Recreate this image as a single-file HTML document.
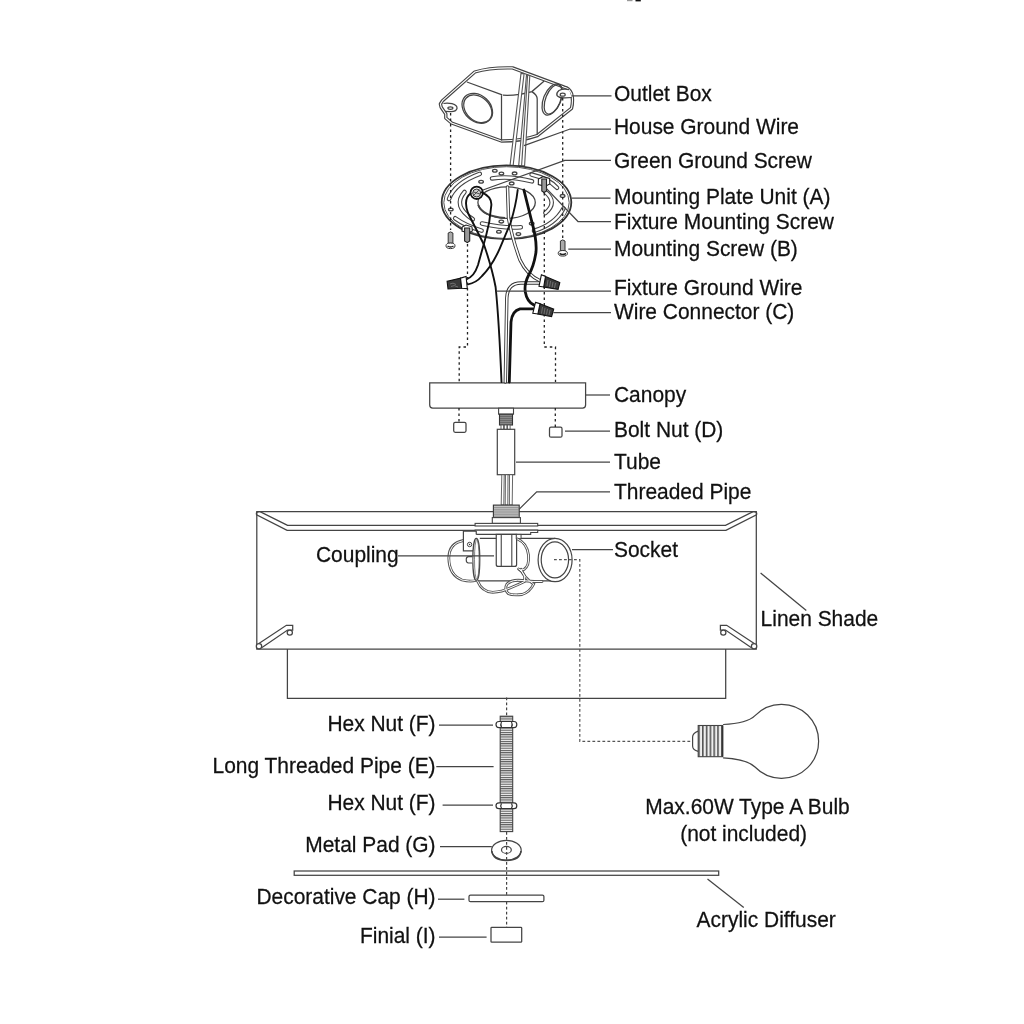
<!DOCTYPE html>
<html><head><meta charset="utf-8">
<style>
html,body{margin:0;padding:0;background:#fff;width:1024px;height:1024px;overflow:hidden}
svg{display:block;will-change:transform}
text{font-family:"Liberation Sans",sans-serif;font-size:20.95px;fill:#111;stroke:#111;stroke-width:0.25}
.l{fill:none;stroke:#444;stroke-width:1.25}
.d{fill:none;stroke:#222;stroke-width:1.3;stroke-dasharray:2.5 3}
.k{fill:none;stroke:#111;stroke-width:2.4}
</style></head>
<body>
<svg width="1024" height="1024" viewBox="0 0 1024 1024">




<!-- CANOPY, BOLT NUTS, TUBE -->
<g class="l">
<path d="M429.7 382.9 H585.6 V405 Q585.6 408 582.6 408 H432.7 Q429.7 408 429.7 405 Z" fill="#fff"/>
<rect x="453.7" y="422.3" width="12.3" height="10" rx="1.5"/>
<rect x="549.5" y="427.2" width="12.5" height="10" rx="1.5"/>
</g>


<!-- SHADE -->
<g class="l" id="shade">
<path d="M256.8 511.5 H756.3 V649 H256.8 Z" fill="#fff"/>
<path d="M287.6 525.4 L260 511.7 Q255.5 511.3 256.6 514.8 L287.1 530.4 H725.9 L756.5 514.8 Q757.6 511.3 753.1 511.7 L725.5 525.4 Z"/>
<path d="M287.4 649 V698.3 H725.7 V649"/>
<g id="clipL">
<path d="M258.5 643.8 L286.4 625.25 H292.7 V630.1 H287.6 L262 647.5"/>
<circle cx="259" cy="646.2" r="2.7" fill="#fff"/>
<circle cx="289.8" cy="632.6" r="2.6" fill="#fff"/>
</g>
<use href="#clipL" transform="translate(1013.1 0) scale(-1 1)"/>
</g>

<!-- STEM -->
<g id="stem">
<rect x="498.6" y="408.2" width="14.9" height="6" fill="#fff" stroke="#444" stroke-width="1.1"/>
<rect x="499.5" y="414.2" width="13" height="10.8" fill="#888" stroke="#333" stroke-width="1.1"/>
<path d="M500 416.5 H512 M500 418.5 H512 M500 420.5 H512 M500 422.5 H512" stroke="#555" stroke-width="0.6"/>
<g fill="#fff" stroke="#555" stroke-width="0.9">
<rect x="501" y="425" width="2.6" height="4.5"/>
<rect x="504.3" y="425" width="2.6" height="4.5"/>
<rect x="507.5" y="425" width="2.6" height="4.5"/>
</g>
<rect x="497.3" y="429.3" width="17.4" height="45.4" fill="#fff" stroke="#444" stroke-width="1.2"/>
<g fill="#fff" stroke="#555" stroke-width="0.9">
<path d="M501.8 474.7 L501.2 505 H503.8 L504.2 474.7 Z"/>
<path d="M505.5 474.7 L505.2 505 H507.8 L508 474.7 Z"/>
<path d="M509.5 474.7 L509.4 505 H512.2 L512.6 474.7 Z"/>
</g>
</g>

<!-- SOCKET / COUPLING -->
<g id="socket">
<rect x="493.4" y="505.1" width="25.8" height="12.5" fill="#c4c4c4" stroke="#333" stroke-width="1.1"/>
<path d="M493.8 507.5 H518.8 M493.8 509.3 H518.8 M493.8 511.1 H518.8 M493.8 512.9 H518.8 M493.8 514.7 H518.8 M493.8 516.3 H518.8" stroke="#777" stroke-width="0.6"/>
<rect x="492.3" y="517.6" width="28.1" height="5.8" fill="#fff" stroke="#444" stroke-width="1.1"/>
<rect x="475.1" y="523.4" width="62.6" height="2.6" fill="#fff" stroke="#444" stroke-width="1.1"/>
<path d="M475.1 530.1 H537.7 V532.5 H530.7 V534.4 H475.1 Z" fill="#fff" stroke="#444" stroke-width="1.1"/>
<!-- left wire loop -->
<path d="M463.5 540.5 Q449 543 448.8 558 Q449 575 462 580 Q470 582 476 580.5" fill="none" stroke="#555" stroke-width="2.8"/>
<path d="M463.5 540.5 Q449 543 448.8 558 Q449 575 462 580 Q470 582 476 580.5" fill="none" stroke="#fff" stroke-width="1"/>
<!-- bracket -->
<path d="M476.25 534.4 V531.25 H463.4 V550.8 H476.25" fill="#fff" stroke="#444" stroke-width="1.2"/>
<circle cx="469.6" cy="544.5" r="2.2" fill="none" stroke="#444" stroke-width="1"/>
<circle cx="469.6" cy="544.5" r="0.7" fill="#333"/>
<!-- socket body -->
<path d="M476.3 538.4 H555.1 V581.4 H476.3 Z" fill="#fff" stroke="none"/>
<path d="M479.8 538.4 H555 M476.3 580.8 H554" fill="none" stroke="#444" stroke-width="1.2"/>
<ellipse cx="476.3" cy="559.4" rx="3.5" ry="21.1" fill="#fff" stroke="#444" stroke-width="1.2"/>
<ellipse cx="476.8" cy="559.4" rx="2.3" ry="20" fill="none" stroke="#666" stroke-width="0.8"/>
<path d="M472.2 556.6 H468.5 Q466.2 556.6 466.2 559.8 Q466.2 563 468.5 563 H472.2" fill="#fff" stroke="#444" stroke-width="1.1"/>
<ellipse cx="555.1" cy="560" rx="17" ry="21.6" fill="#fff" stroke="#444" stroke-width="1.2"/>
<ellipse cx="554.9" cy="559.8" rx="13.7" ry="18" fill="#fff" stroke="#444" stroke-width="1.2"/>
<!-- hex coupling -->
<path d="M496.25 534.4 H516.6 V564.4 Q516.6 566.4 514.6 566.4 H498.25 Q496.25 566.4 496.25 564.4 Z" fill="#fff" stroke="#444" stroke-width="1.2"/>
<path d="M501.25 534.6 V566.2 M511.8 534.6 V566.2" stroke="#444" stroke-width="1.1"/>
<rect x="516.25" y="534.4" width="4.8" height="4.3" fill="#fff" stroke="#444" stroke-width="1"/>
<!-- right wire loop & bottom wires -->
<g fill="none" stroke-linecap="round">
<g stroke="#555" stroke-width="2.8">
<path d="M517.5 539 Q527 543 528.5 555 Q529.5 566 524 569.5 Q520 571 518.5 569"/>
<path d="M477.5 581 Q482 592 492.7 592.3 Q502 592 510 588 Q520 584 524.4 581.6 Q526 574 520 570"/>
<path d="M520.9 569.3 Q524 578 533.7 584 Q530 592 522 594.5 Q512 595.5 508 593.4 Q504 589 507 584 Q512 579.3 522 580.5 Q534 582 542 581.5"/>
</g>
<g stroke="#fff" stroke-width="1">
<path d="M517.5 539 Q527 543 528.5 555 Q529.5 566 524 569.5 Q520 571 518.5 569"/>
<path d="M477.5 581 Q482 592 492.7 592.3 Q502 592 510 588 Q520 584 524.4 581.6 Q526 574 520 570"/>
<path d="M520.9 569.3 Q524 578 533.7 584 Q530 592 522 594.5 Q512 595.5 508 593.4 Q504 589 507 584 Q512 579.3 522 580.5 Q534 582 542 581.5"/>
</g>
</g>
</g>

<!-- BOTTOM PARTS -->
<defs>
<pattern id="thr" x="0" y="716.2" width="4" height="2.25" patternUnits="userSpaceOnUse">
<rect width="4" height="2.25" fill="#eee"/>
<rect y="0" width="4" height="1.05" fill="#555"/>
</pattern>
<pattern id="bthr" x="698.2" y="0" width="3.8" height="4" patternUnits="userSpaceOnUse">
<rect width="3.8" height="4" fill="#eee"/>
<rect x="0" width="1.6" height="4" fill="#555"/>
</pattern>
</defs>
<g id="bottom">
<rect x="500.2" y="716.2" width="12.5" height="115.4" fill="url(#thr)" stroke="#444" stroke-width="1.1"/>
<g stroke="#333" stroke-width="1.2" fill="#fff">
<path d="M499 721.5 H514 Q516.8 721.5 516.8 724.5 Q516.8 727.6 514 727.6 H499 Q496 727.6 496 724.5 Q496 721.5 499 721.5 Z"/>
<path d="M501.5 722 Q500 724.5 501.5 727.2 M511.5 722 Q513 724.5 511.5 727.2"/>
<path d="M499 802.9 H514 Q516.8 802.9 516.8 805.8 Q516.8 808.7 514 808.7 H499 Q496 808.7 496 805.8 Q496 802.9 499 802.9 Z"/>
<path d="M501.5 803.4 Q500 805.8 501.5 808.2 M511.5 803.4 Q513 805.8 511.5 808.2"/>
</g>
<ellipse cx="506.4" cy="850.2" rx="14.8" ry="9.8" fill="#fff" stroke="#444" stroke-width="1.2"/>
<path d="M491.8 851 Q493 860.5 506.4 860.5 Q520 860.5 521 851" fill="none" stroke="#444" stroke-width="1.6"/>
<ellipse cx="506.4" cy="849.9" rx="4.9" ry="3.5" fill="#fff" stroke="#444" stroke-width="1.2"/>
<g class="l">
<rect x="294.2" y="871" width="424.5" height="4.3" fill="#fff"/>
<rect x="469" y="895" width="74.9" height="6.7" rx="1.5" fill="#fff"/>
<rect x="491" y="927.3" width="30.7" height="14.9" rx="0.8" fill="#fff"/>
</g>
</g>

<!-- BULB -->
<g id="bulb">
<path d="M723.1 724.5 C735 724 749 721.6 755 715.6 A37 37 0 1 1 755 767 C749 761 735 758.5 723.1 757.8" fill="#fff" stroke="#444" stroke-width="1.2"/>
<path d="M698.2 731.1 Q692.6 733 692.6 737 V746 Q692.6 750 698.2 751.4" fill="#fff" stroke="#444" stroke-width="1.2"/>
<rect x="698.2" y="725.5" width="24.4" height="31.2" fill="url(#bthr)" stroke="#444" stroke-width="1.1"/>
<path d="M722.6 725.5 V756.7" stroke="#333" stroke-width="1.4"/>
</g>

<!-- OUTLET BOX -->
<g id="box">
<path d="M442.5 100.7 L474.8 72 Q490 67.3 512.6 67.9 L564.4 87.2 Q569 88 571.5 93.4 Q573.5 100 571.5 108.3 L537.2 135.6 Q522 141 501.4 141 L451.6 123 L445.8 118 L445.8 114 L441.2 107.3 L440.4 104 Z" fill="#fff" stroke="#444" stroke-width="3.4" stroke-linejoin="round"/>
<path d="M442.5 100.7 L474.8 72 Q490 67.3 512.6 67.9 L564.4 87.2 Q569 88 571.5 93.4 Q573.5 100 571.5 108.3 L537.2 135.6 Q522 141 501.4 141 L451.6 123 L445.8 118 L445.8 114 L441.2 107.3 L440.4 104 Z" fill="none" stroke="#fff" stroke-width="1.1" stroke-linejoin="round"/>
<g class="l">
<path d="M466.9 82 L502.2 94.9"/>
<path d="M501.5 95.2 V140.5"/>
<path d="M502.9 95.2 Q517 96 531.9 91.6 L544.2 81.1"/>
<path d="M531.9 91.6 Q537.2 95 537.2 99 V134.7"/>
<ellipse cx="477.3" cy="108.3" rx="17" ry="13" transform="rotate(43 477.3 108.3)"/>
<ellipse cx="477.8" cy="108.8" rx="15.8" ry="11.8" transform="rotate(43 477.8 108.8)"/>
<ellipse cx="552" cy="99.5" rx="8.5" ry="16.5" transform="rotate(22 552 99.5)"/>
<ellipse cx="553.3" cy="99.3" rx="7.6" ry="15.6" transform="rotate(22 553.3 99.3)"/>
<path d="M443.5 103.5 Q447 102.8 452 103.6 Q457.5 105 457 108.5 Q456 111.8 450.5 111.6 L445 111.3"/>
<ellipse cx="450.4" cy="108.1" rx="2.5" ry="1.3"/>
<path d="M569 89.6 Q563 88.5 559 90.5 Q556 93 557 95.5 Q559 98 565 97.8 L571.8 97.5" fill="#fff"/>
<ellipse cx="562.7" cy="94.7" rx="2.5" ry="1.5"/>
</g>
<g fill="#fff" stroke="#555" stroke-width="1.1">
<path d="M521 73.4 L510 165.8 L513.1 165.8 L524.1 73.6 Z"/>
<path d="M526.5 75 L518.7 165.8 L524.6 165.8 L529.8 75.4 Z"/>
<path d="M527.6 75.2 L521.6 165.8"/>
</g>
</g>


<!-- MOUNTING PLATE -->
<g id="plate">
<ellipse cx="506.5" cy="202.3" rx="64.8" ry="36.9" fill="#fff" stroke="#333" stroke-width="1.8"/>
<ellipse cx="506.5" cy="202.6" rx="62.7" ry="35.9" fill="none" stroke="#555" stroke-width="1"/>
<ellipse cx="506.6" cy="202.6" rx="28.7" ry="15.8" fill="none" stroke="#444" stroke-width="1.3"/>
<path d="M478.3 205 Q482 216 505 218" fill="none" stroke="#444" stroke-width="2"/>
<g fill="none" stroke-linecap="round">
<g stroke="#444" stroke-width="4.6">
<path d="M479.8 173.9 Q455 183 449 199"/>
<path d="M492 178.4 Q510 175.5 532 181.3"/>
<path d="M464.5 192 Q452 206 472.8 219.2"/>
<path d="M455.2 218.3 Q466 226 481.6 230.6"/>
<path d="M482 223.5 Q505 228.8 520.8 227.2"/>
<path d="M563.5 208.5 Q555 224.5 534 230.8"/>
<path d="M531.6 174.6 Q548.5 178.6 557 187.8"/>
<path d="M545.4 192 Q558 202.5 545.4 213"/>
</g>
<g stroke="#fff" stroke-width="2.4">
<path d="M479.8 173.9 Q455 183 449 199"/>
<path d="M492 178.4 Q510 175.5 532 181.3"/>
<path d="M464.5 192 Q452 206 472.8 219.2"/>
<path d="M455.2 218.3 Q466 226 481.6 230.6"/>
<path d="M482 223.5 Q505 228.8 520.8 227.2"/>
<path d="M563.5 208.5 Q555 224.5 534 230.8"/>
<path d="M531.6 174.6 Q548.5 178.6 557 187.8"/>
<path d="M545.4 192 Q558 202.5 545.4 213"/>
</g>
</g>
<g fill="#fff" stroke="#444" stroke-width="1.3">
<ellipse cx="494.8" cy="170.8" rx="2.3" ry="1.4"/>
<ellipse cx="501.4" cy="173.6" rx="2.3" ry="1.4"/>
<ellipse cx="514.6" cy="173.4" rx="2.3" ry="1.4"/>
<ellipse cx="511.7" cy="183.4" rx="2.3" ry="1.4"/>
<ellipse cx="481.1" cy="181.8" rx="2.3" ry="1.4"/>
<ellipse cx="450.8" cy="209.5" rx="2.3" ry="1.4"/>
<ellipse cx="501.3" cy="221.6" rx="2.3" ry="1.4"/>
<ellipse cx="498.9" cy="231.8" rx="2.3" ry="1.4"/>
<ellipse cx="518.4" cy="234.1" rx="2.3" ry="1.4"/>
<ellipse cx="531.7" cy="223.6" rx="2.3" ry="1.4"/>
<ellipse cx="562.6" cy="195.9" rx="2.3" ry="1.4"/>
</g>
<!-- green ground screw -->
<circle cx="476.7" cy="192.8" r="6.2" fill="#fff" stroke="#111" stroke-width="1.8"/>
<circle cx="476.7" cy="193" r="4" fill="#ccc" stroke="#333" stroke-width="1"/>
<path d="M473.5 192 L480 194 M474 195 L479 190" stroke="#333" stroke-width="0.8"/>
<!-- fixture mounting screws -->
<g stroke="#222" stroke-width="1.1">
<path d="M462.2 227 L466 225 L471.9 226.8 L472.4 231 L468 232.9 L462 231 Z" fill="#fff"/>
<path d="M464.6 228 H469.7 V241 L467.3 242.7 L464.6 241 Z" fill="#999"/>
<path d="M538.4 179 L543 176.7 L549.6 178.5 L549.8 184 L545 186.4 L538.3 184.5 Z" fill="#fff"/>
<path d="M541.8 179 H546.5 V191 L544.1 192.5 L541.8 191 Z" fill="#999"/>
</g>
<!-- mounting screws B -->
<g stroke="#333" stroke-width="1">
<path d="M448.2 243.3 V233 Q450.5 230.8 452.9 233 V243.3 Z" fill="#aaa"/>
<ellipse cx="450.5" cy="245.8" rx="4.5" ry="2.8" fill="#fff"/>
<path d="M447.5 246 Q450.5 248 453.5 246" stroke="#222" stroke-width="1.5" fill="none"/>
<path d="M560.4 251 V241 Q562.7 238.8 565 241 V251 Z" fill="#aaa"/>
<ellipse cx="562.8" cy="253.3" rx="4.6" ry="2.8" fill="#fff"/>
<path d="M559.5 253.5 Q562.8 255.5 566 253.5" stroke="#222" stroke-width="1.5" fill="none"/>
</g>
</g>

<!-- WIRES -->
<g id="wires" fill="none" stroke-linecap="round">
<!-- white double wires -->
<g stroke="#333" stroke-width="3.4">
<path d="M507.5 187 L508.5 218 Q512 238 520 260 Q527 275 540.5 281"/>
<path d="M539.5 283 H521 Q507.5 283 506.8 298 L505.3 382"/>
</g>
<g stroke="#fff" stroke-width="1.6">
<path d="M507.5 187 L508.5 218 Q512 238 520 260 Q527 275 540.5 281"/>
<path d="M539.5 283 H521 Q507.5 283 506.8 298 L505.3 382"/>
</g>
<!-- black wires -->
<g stroke="#111" stroke-width="1.9">
<path d="M470.5 193.5 Q463 199 468 213 L484 244.7 Q492 268 495.6 287 Q499 320 501.5 382"/>
<path d="M481.7 192.3 Q493 197 491.1 207 Q490 222 486 236 L478 265 Q474 277 466.6 279"/>
<path d="M517.7 190 Q516 205 510.6 222.8 L499.7 248.6 Q492 266 482 276 Q476 283 468 284.4"/>
</g>
<g stroke="#111" stroke-width="2.8">
<path d="M523.9 190 L531.7 221.25 Q537 240 536 252 Q534 266 528.7 275 Q524 284 525.3 292 Q527 302 534.2 305.1"/>
<path d="M533.5 308.9 H520 Q512 311 511 322 L509.3 382"/>
</g>

</g>

<g class="d">
<path d="M467.5 244 V347 H459.2 V382"/>
<path d="M544.3 193 V347 H555.5 V382"/>
<path d="M450.6 113 V230"/>
<path d="M562.7 98 V238"/>
<path d="M459 408 V422"/>
<path d="M555.3 408 V427"/>
<path d="M506.6 697.5 V716 M506.6 832 V895 M506.6 901.7 V927.3" stroke="#444" stroke-width="1.2" stroke-dasharray="2.8 2.2"/>
<path d="M554 559.7 H579.8 V741.3 H692.6" stroke="#555" stroke-width="1.2" stroke-dasharray="2.8 2.2"/>
</g>
<!-- LEADERS -->
<g class="l">
<path d="M571.7 95.8 H611.5"/>
<path d="M524 145.7 L570.1 129 H611"/>
<path d="M483 190 L564.8 160.3 H611"/>
<path d="M571.8 198 H610.5"/>
<path d="M546.3 188.4 L578 221.5 H611"/>
<path d="M568.3 249 H611"/>
<path d="M496.4 291 H611"/>
<path d="M553.4 312.6 H611"/>
<path d="M586 395 H610"/>
<path d="M565 431 H610"/>
<path d="M516 462 H610"/>
<path d="M519 509.4 L536.7 491.8 H610"/>
<path d="M398 555.8 H494"/>
<path d="M572 549.5 H613"/>
<path d="M760.6 573.1 L806.3 610.5"/>
<path d="M439 725.2 H493"/>
<path d="M436.3 766.6 H493.6"/>
<path d="M442.6 805 H493"/>
<path d="M440 846.5 H491.8"/>
<path d="M438 899.2 H464.4"/>
<path d="M439 937.2 H486.6"/>
<path d="M707.5 879 L743.75 907.5"/>
</g>
<!-- connectors -->
<g stroke="#111" stroke-width="1.1">
<path d="M447.1 281.2 L460.5 278.1 L461.7 288.3 L448 289 Z" fill="#3a3a3a"/>
<path d="M450 284 Q453 282 456 284.5 M451 286.5 Q454 284.5 458 287" stroke="#888" stroke-width="0.7" fill="none"/>
<path d="M460.5 278.1 L466.1 276.4 L467.3 288.6 L461.7 288.3 Z" fill="#fff"/>
<path d="M545.5 276.4 L559.8 282.6 L558.1 289.4 L543.7 287 Z" fill="#3a3a3a"/>
<path d="M548 280 L547 286 M550.5 281 L549.5 287 M553 282 L552 287.5 M555.5 283 L554.5 288" stroke="#888" stroke-width="0.7" fill="none"/>
<path d="M541.4 274.7 L545.5 276.4 L543.7 287 L539 286.3 Z" fill="#fff"/>
<path d="M540 303.7 L553.7 309.2 L551.6 316.7 L537.9 314 Z" fill="#3a3a3a"/>
<path d="M542.5 307 L541.5 313.5 M545 308 L544 314 M547.5 309 L546.5 314.5 M550 310 L549 315" stroke="#888" stroke-width="0.7" fill="none"/>
<path d="M535.5 302.4 L540 303.7 L537.9 314 L532.8 313.3 Z" fill="#fff"/>
</g>
<!-- TEXT -->
<g id="labels" transform="translate(0 0.5)">
<text x="614" y="100.2" transform="matrix(1 0 0 1.04 0 -4.008)">Outlet Box</text>
<text x="614" y="133.6" transform="matrix(1 0 0 1.04 0 -5.344)">House Ground Wire</text>
<text x="614" y="167.6" transform="matrix(1 0 0 1.04 0 -6.704)">Green Ground Screw</text>
<text x="614" y="203.3" transform="matrix(1 0 0 1.04 0 -8.132)">Mounting Plate Unit (A)</text>
<text x="614" y="228.2" transform="matrix(1 0 0 1.04 0 -9.128)">Fixture Mounting Screw</text>
<text x="614" y="255.2" transform="matrix(1 0 0 1.04 0 -10.208)">Mounting Screw (B)</text>
<text x="614" y="294.1" transform="matrix(1 0 0 1.04 0 -11.764)">Fixture Ground Wire</text>
<text x="614" y="319" transform="matrix(1 0 0 1.04 0 -12.760)">Wire Connector (C)</text>
<text x="614" y="402" transform="matrix(1 0 0 1.04 0 -16.080)">Canopy</text>
<text x="614" y="437" transform="matrix(1 0 0 1.04 0 -17.480)">Bolt Nut (D)</text>
<text x="614" y="469.0" transform="matrix(1 0 0 1.04 0 -18.760)">Tube</text>
<text x="614" y="499.0" transform="matrix(1 0 0 1.04 0 -19.960)">Threaded Pipe</text>
<text x="316" y="562" transform="matrix(1 0 0 1.04 0 -22.480)">Coupling</text>
<text x="614" y="557" transform="matrix(1 0 0 1.04 0 -22.280)">Socket</text>
<text x="760.6" y="625.7" transform="matrix(1 0 0 1.04 0 -25.028)">Linen Shade</text>
<text x="435.6" y="731" text-anchor="end" transform="matrix(1 0 0 1.04 0 -29.240)">Hex Nut (F)</text>
<text x="435.6" y="772.3" text-anchor="end" transform="matrix(1 0 0 1.04 0 -30.892)">Long Threaded Pipe (E)</text>
<text x="435.6" y="810" text-anchor="end" transform="matrix(1 0 0 1.04 0 -32.400)">Hex Nut (F)</text>
<text x="435.6" y="851.1" text-anchor="end" transform="matrix(1 0 0 1.04 0 -34.044)">Metal Pad (G)</text>
<text x="435.6" y="904" text-anchor="end" transform="matrix(1 0 0 1.04 0 -36.160)">Decorative Cap (H)</text>
<text x="435.6" y="943" text-anchor="end" transform="matrix(1 0 0 1.04 0 -37.720)">Finial (I)</text>
<text x="747.5" y="813.7" text-anchor="middle" transform="matrix(1 0 0 1.04 0 -32.548)">Max.60W Type A Bulb</text>
<text x="743.6" y="840.2" text-anchor="middle" transform="matrix(1 0 0 1.04 0 -33.608)">(not included)</text>
<text x="696.6" y="926.9" transform="matrix(1 0 0 1.04 0 -37.076)">Acrylic Diffuser</text>
</g>
<rect x="627" y="0" width="5.5" height="1.2" fill="#999"/><rect x="635.5" y="0" width="5.3" height="1.4" fill="#111"/>
</svg>
</body></html>
